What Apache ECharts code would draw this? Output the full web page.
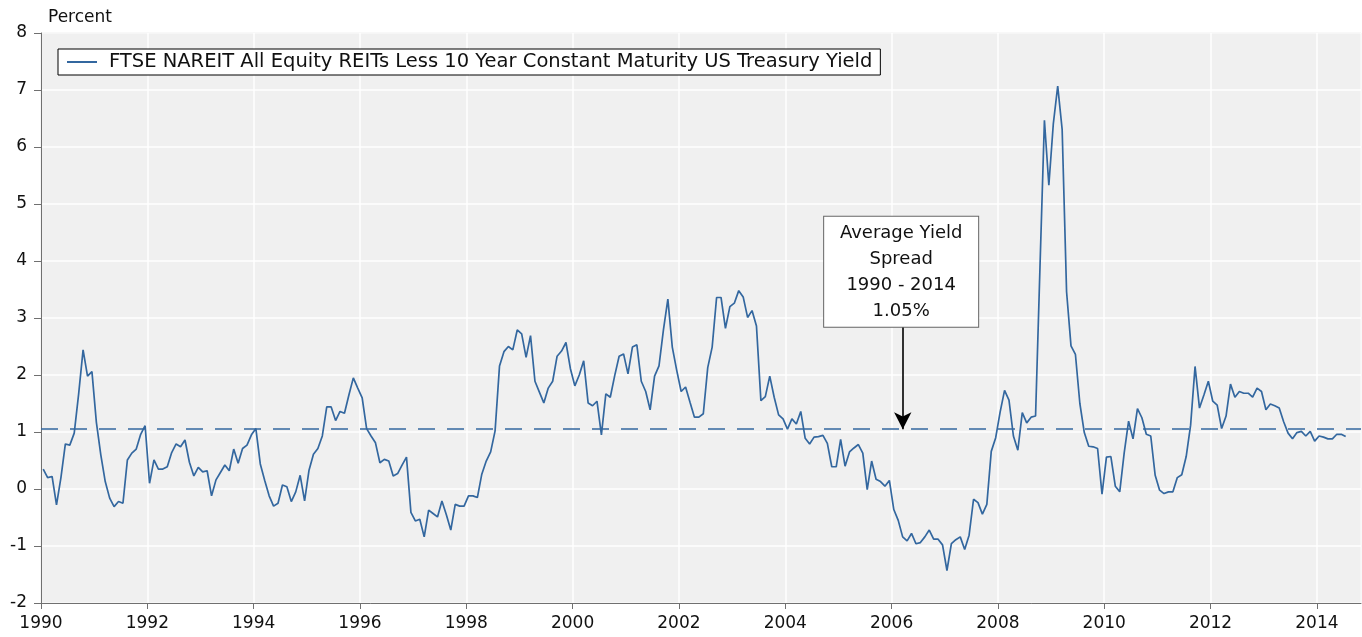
<!DOCTYPE html>
<html>
<head>
<meta charset="utf-8">
<script src="https://cdn.jsdelivr.net/npm/echarts@6/dist/echarts.min.js"></script>
<style>
  html, body { margin: 0; padding: 0; background: #ffffff; }
  #chart { width: 1362px; height: 637px; }
</style>
</head>
<body>
<div id="chart"></div>
<script>
// REIT yield less 10y treasury, monthly Jan 1990 .. Jul 2014 (one row per year)
const startYear = 1990
const spread = [
  0.35, 0.20, 0.22, -0.28, 0.20, 0.79, 0.77, 0.98, 1.67, 2.44, 1.98, 2.06,
  1.17, 0.60, 0.13, -0.16, -0.31, -0.22, -0.25, 0.51, 0.63, 0.70, 0.96, 1.11,
  0.10, 0.51, 0.35, 0.35, 0.39, 0.64, 0.79, 0.74, 0.86, 0.47, 0.23, 0.38,
  0.30, 0.32, -0.12, 0.16, 0.29, 0.42, 0.32, 0.70, 0.45, 0.71, 0.77, 0.95,
  1.06, 0.44, 0.15, -0.12, -0.30, -0.25, 0.07, 0.04, -0.22, -0.05, 0.24, -0.21,
  0.33, 0.61, 0.71, 0.93, 1.44, 1.44, 1.20, 1.36, 1.33, 1.65, 1.95, 1.77,
  1.60, 1.06, 0.93, 0.81, 0.46, 0.52, 0.49, 0.23, 0.27, 0.42, 0.56, -0.41,
  -0.56, -0.53, -0.84, -0.37, -0.43, -0.49, -0.21, -0.45, -0.72, -0.27, -0.30, -0.30,
  -0.12, -0.12, -0.15, 0.26, 0.49, 0.65, 1.02, 2.16, 2.41, 2.50, 2.44, 2.79,
  2.72, 2.31, 2.69, 1.89, 1.70, 1.51, 1.77, 1.89, 2.33, 2.42, 2.57, 2.11,
  1.81, 2.00, 2.25, 1.51, 1.46, 1.54, 0.95, 1.67, 1.61, 1.99, 2.33, 2.37,
  2.02, 2.49, 2.53, 1.89, 1.71, 1.39, 1.98, 2.16, 2.79, 3.33, 2.49, 2.08,
  1.71, 1.79, 1.52, 1.26, 1.26, 1.32, 2.13, 2.49, 3.36, 3.36, 2.82, 3.20,
  3.26, 3.48, 3.37, 3.01, 3.13, 2.86, 1.55, 1.62, 1.98, 1.61, 1.30, 1.23,
  1.05, 1.23, 1.14, 1.36, 0.89, 0.79, 0.91, 0.92, 0.94, 0.80, 0.39, 0.39,
  0.87, 0.40, 0.65, 0.72, 0.78, 0.63, -0.01, 0.49, 0.17, 0.13, 0.05, 0.15,
  -0.36, -0.55, -0.84, -0.91, -0.78, -0.96, -0.94, -0.84, -0.72, -0.88, -0.88, -0.98,
  -1.43, -0.96, -0.89, -0.84, -1.06, -0.81, -0.18, -0.24, -0.44, -0.27, 0.66, 0.90,
  1.35, 1.73, 1.56, 0.93, 0.68, 1.34, 1.16, 1.26, 1.28, 3.90, 6.47, 5.33,
  6.40, 7.07, 6.31, 3.46, 2.51, 2.36, 1.50, 0.99, 0.75, 0.74, 0.71, -0.09,
  0.56, 0.57, 0.05, -0.05, 0.63, 1.19, 0.88, 1.41, 1.25, 0.96, 0.93, 0.24,
  -0.02, -0.08, -0.05, -0.05, 0.20, 0.25, 0.57, 1.12, 2.15, 1.42, 1.65, 1.89,
  1.54, 1.47, 1.06, 1.28, 1.84, 1.61, 1.71, 1.68, 1.68, 1.61, 1.77, 1.71,
  1.39, 1.49, 1.46, 1.42, 1.18, 0.98, 0.88, 0.99, 1.01, 0.93, 1.01, 0.84,
  0.93, 0.91, 0.88, 0.88, 0.96, 0.96, 0.92
]

const seriesName = 'FTSE NAREIT All Equity REITs Less 10 Year Constant Maturity US Treasury Yield'
const averageSpread = 1.05
const noteLines = ['Average Yield', 'Spread', '1990 - 2014', '1.05%']
const noteAt = [2006.18, 3.81]      // centre of the note box
const arrowX = 2006.21
const arrowTop = 2.84

const FONT = 'DejaVu Sans'
const COLORS = {
  line: '#33679f',
  plot: '#f0f0f0',
  grid: '#ffffff',
  axis: '#707070',
  text: '#111111',
}

// mid-month positions on a year axis
const points = spread.map((v, i) => [startYear + (i + 0.5) / 12, v])

const chart = echarts.init(document.getElementById('chart'), null, { renderer: 'canvas' })

chart.setOption({
  animation: false,
  backgroundColor: '#ffffff',
  title: {
    text: 'Percent',
    left: 43,
    top: 4,
    textStyle: { fontFamily: FONT, fontSize: 17, fontWeight: 'normal', color: COLORS.text },
  },
  legend: {
    left: 58,
    top: 49,
    data: [seriesName],
    backgroundColor: '#ffffff',
    borderColor: '#000000',
    borderWidth: 1,
    borderRadius: 0,
    padding: [3, 8, 3, 9],
    icon: 'rect',
    itemWidth: 30,
    itemHeight: 2,
    textStyle: { fontFamily: FONT, fontSize: 19.5, color: COLORS.text, padding: [0, 0, 0, 7] },
  },
  grid: {
    left: 41,
    right: 1,
    top: 33,
    bottom: 34,
    show: true,
    backgroundColor: COLORS.plot,
    borderColor: '#c8c8c8',
    borderWidth: 1,
  },
  xAxis: {
    type: 'value',
    min: 1990,
    max: 2014.83,
    interval: 2,
    axisLine: { onZero: false, lineStyle: { color: COLORS.axis, width: 1 } },
    axisTick: { show: true, length: 6, lineStyle: { color: COLORS.axis } },
    axisLabel: {
      fontFamily: FONT,
      fontSize: 17,
      color: COLORS.text,
      margin: 12,
      showMaxLabel: false,
      formatter: (v) => String(v),
    },
    splitLine: { show: true, lineStyle: { color: COLORS.grid, width: 1.5 } },
  },
  yAxis: {
    type: 'value',
    min: -2,
    max: 8,
    interval: 1,
    axisLine: { show: true, onZero: false, lineStyle: { color: COLORS.axis, width: 1 } },
    axisTick: { show: true, length: 7, lineStyle: { color: COLORS.axis } },
    axisLabel: { fontFamily: FONT, fontSize: 17, color: COLORS.text, margin: 14 },
    splitLine: { show: true, lineStyle: { color: COLORS.grid, width: 1.5 } },
  },
  series: [
    {
      name: seriesName,
      type: 'line',
      data: points,
      showSymbol: false,
      symbol: 'none',
      color: COLORS.line,
      lineStyle: { color: COLORS.line, width: 1.7 },
      markLine: {
        silent: true,
        symbol: ['none', 'none'],
        label: { show: false },
        data: [
          {
            yAxis: averageSpread,
            lineStyle: { color: COLORS.line, type: [17, 12], width: 1.6 },
          },
          [
            { coord: [arrowX, arrowTop], symbol: 'none', lineStyle: { color: '#000000', type: 'solid', width: 1.6 } },
            { coord: [arrowX, averageSpread], symbol: 'arrow', symbolSize: [13, 17] },
          ],
        ],
      },
      markPoint: {
        silent: true,
        symbol: 'rect',
        symbolSize: 1,
        itemStyle: { color: 'rgba(0,0,0,0)' },
        data: [
          {
            coord: noteAt,
            label: {
              show: true,
              position: 'inside',
              formatter: noteLines.join('\n'),
              fontFamily: FONT,
              fontSize: 18,
              lineHeight: 26,
              color: COLORS.text,
              align: 'center',
              verticalAlign: 'middle',
              width: 136,
              backgroundColor: '#ffffff',
              borderColor: '#666666',
              borderWidth: 1,
              padding: [3, 9, 3, 9],
            },
          },
        ],
      },
    },
  ],
})
</script>
</body>
</html>
